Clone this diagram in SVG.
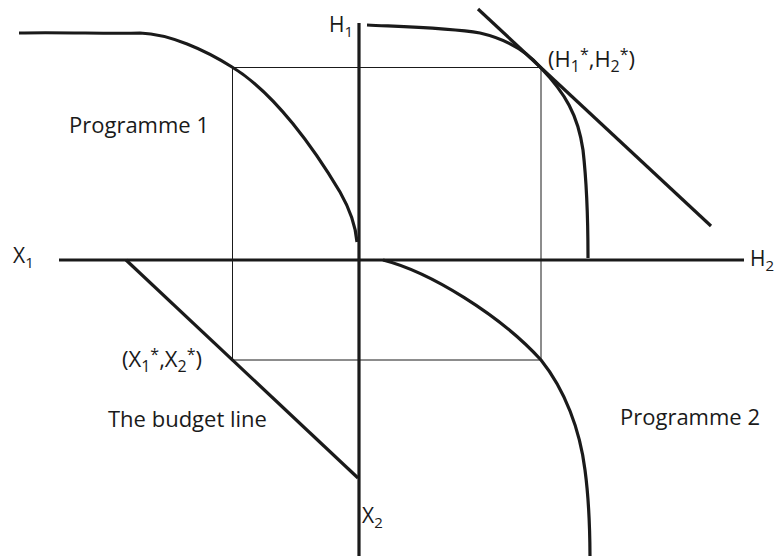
<svg xmlns="http://www.w3.org/2000/svg" width="775" height="556" viewBox="0 0 775 556">
<style>
.thick{fill:none;stroke:#1a1a1a;stroke-width:3.2;stroke-linecap:butt}
.thin{fill:none;stroke:#1a1a1a;stroke-width:1}
text{font-family:"Open Sans","Noto Sans","Liberation Sans",sans-serif;fill:#1a1a1a;font-size:22px}
.sub{font-size:16px}
.ax{font-size:21px}
.axs{font-size:15px}
</style>
<rect width="775" height="556" fill="#fff"/>
<g id="guides">
<rect class="thin" x="232.5" y="67.5" width="308.5" height="292.5"/>
</g>
<g id="axes">
<line class="thick" x1="59" y1="260" x2="744" y2="260"/>
<line class="thick" x1="359" y1="23" x2="359" y2="556"/>
</g>
<g id="programme1-curve">
<path class="thick" d="M19,33 C60,32 110,34 140,33 C170,34 205,50 232,67 C275,93 315,150 340,192 C352,213 356,230 357,242"/>
</g>
<g id="health-curve">
<path class="thick" d="M367,25 C410,27 450,28 480,33 C510,40 530,55 541,68 C565,93 578,115 583,150 C587,185 588,220 588,258"/>
</g>
<g id="tangent-line">
<line class="thick" x1="478" y1="9" x2="711" y2="226"/>
</g>
<g id="programme2-curve">
<path class="thick" d="M383,260 C430,272 500,315 541,360 C565,390 580,430 585,470 C589,500 590,530 590,560"/>
</g>
<g id="budget-line">
<line class="thick" x1="126" y1="260" x2="358" y2="478"/>
</g>
<g id="labels">
<text class="ax" x="329" y="32">H<tspan class="axs" dy="5">1</tspan></text>
<text x="69" y="133">Programme 1</text>
<text class="ax" x="13" y="263">X<tspan class="axs" dy="5">1</tspan></text>
<text class="ax" x="750" y="266">H<tspan class="axs" dy="5">2</tspan></text>
<text x="548" y="67">(H<tspan class="sub" dy="5">1</tspan><tspan class="sub" dy="-12">*</tspan><tspan dy="7">,H</tspan><tspan class="sub" dy="5">2</tspan><tspan class="sub" dy="-12">*</tspan><tspan dy="7">)</tspan></text>
<text x="122" y="367">(X<tspan class="sub" dy="5">1</tspan><tspan class="sub" dy="-12">*</tspan><tspan dy="7">,X</tspan><tspan class="sub" dy="5">2</tspan><tspan class="sub" dy="-12">*</tspan><tspan dy="7">)</tspan></text>
<text x="108" y="427">The budget line</text>
<text class="ax" x="362" y="523">X<tspan class="axs" dy="5">2</tspan></text>
<text x="620" y="425">Programme 2</text>
</g>
</svg>
